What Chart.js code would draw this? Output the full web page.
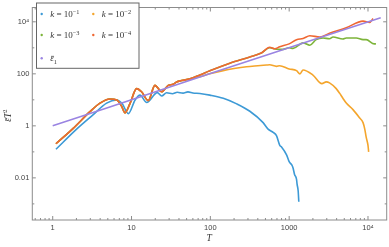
<!DOCTYPE html>
<html>
<head>
<meta charset="UTF-8">
<title>eps T2 vs T</title>
<script src="https://cdn.jsdelivr.net/npm/chart.js@4"></script>
<style>
    html, body { margin: 0; padding: 0; background: #fff; }
</style>
</head>
<body>
<canvas id="c" width="389" height="247"></canvas>
<script>
    // curve shared by k = 1e-2, 1e-3, 1e-4 at early times (they overlap)
    const earlyT = [1.10, 1.82, 2.97, 3.98, 5.3, 6.5, 7.5, 8.25, 9.6, 11.6, 13.4, 16.3, 19.8, 24.1, 29.2, 33.7, 37.3, 43.2, 55];
    const earlyV = [0.205, 0.8, 3.5, 7.45, 10.8, 9.9, 5.6, 3.15, 7.45, 27.1, 20.4, 9.4, 36, 20.4, 36, 39.4, 48.4, 55, 64];

    // k = 1e-1
    const blueT = [1.10, 2.01, 3.27, 4.83, 6.5, 7.6, 9.1, 11.1, 12.8, 15.6, 21.2, 24.1, 27.9, 33, 38, 45, 52, 60, 73.6, 98.6, 146, 216, 317, 467, 540, 627, 690, 760, 800, 930, 1000, 1075, 1120, 1170, 1240, 1260, 1300, 1325];
    const blueV = [0.126, 0.746, 2.7, 7.45, 9.9, 7.2, 2.96, 9.9, 15.2, 7.9, 18.9, 14, 18.7, 17.2, 19.6, 18.1, 20.2, 18.4, 17.6, 15.2, 11.5, 7.0, 3.64, 1.33, 0.75, 0.56, 0.42, 0.178, 0.154, 0.075, 0.042, 0.032, 0.024, 0.0135, 0.0088, 0.0057, 0.0032, 0.0012];

    // k = 1e-2 (after the shared part)
    const orangeT = [73.6, 98, 145, 200, 288, 400, 515, 565, 690, 755, 1000, 1240, 1370, 1500, 2000, 2600, 2950, 3250, 3950, 4380, 4800, 5300, 6450, 7800, 8650, 9100, 9500, 9990, 10200];
    const orangeV = [78, 100, 133, 160, 188, 205, 218, 223, 194, 205, 154, 133, 100, 141, 90, 42, 49, 45, 27, 17.7, 11.5, 7.5, 4.2, 2.05, 1.33, 0.75, 0.36, 0.18, 0.1];

    // k = 1e-4 (after the shared part)
    const redT = [73.6, 98.5, 180, 317, 450, 565, 657, 760, 1000, 1240, 1500, 1830, 2450, 3250, 5300, 8650, 10500, 11570];
    const redV = [90, 130, 260, 444, 650, 1058, 920, 1100, 1420, 2057, 2300, 2900, 2600, 3660, 5900, 10600, 9500, 13400];

    // k = 1e-3 (after the shared part)
    const greenT = [73.6, 98.5, 180, 317, 450, 565, 690, 830, 1000, 1120, 1500, 1830, 2200, 2690, 3250, 3600, 4800, 5300, 7100, 8650, 9500, 12000, 12600];
    const greenV = [90, 130, 260, 444, 650, 1000, 880, 870, 1000, 950, 1550, 1260, 2057, 2380, 2230, 2600, 2190, 2380, 2380, 2057, 2057, 1420, 1420];

    // eps_1 bar
    const purpleT = [1, 100, 14500];
    const purpleV = [1, 102, 14300];

    const xTicks = [1, 10, 100, 1000, 10000];
    const xLabels = ['1', '10', '100', '1000', '10⁴'];
    const yTicks = [0.01, 1, 100, 10000];
    const yLabels = ['0.01', '1', '100', '10⁴'];

    const colors = { blue: '#3d9ad6', orange: '#f4a52c', green: '#7db43a', red: '#ef6732', purple: '#9a84e2' };

    function pts(t, v) { return t.map((x, i) => ({ x: x, y: v[i] })); }

    function serie(label, data, color, order) {
        return {
            label, data, order,
            showLine: true, borderColor: color, backgroundColor: color,
            borderWidth: 1.6, pointRadius: 0, cubicInterpolationMode: 'monotone'
        };
    }

    // drawing text with italics, super/subscripts
    function mathText(ctx, parts, x, y, size) {
        let cx = x;
        parts.forEach(p => {
            const fs = p.sup || p.sub ? size * 0.7 : size;
            ctx.font = (p.it ? 'italic ' : '') + fs + 'px "Liberation Serif"';
            const dy = p.sup ? -size * 0.38 : (p.sub ? size * 0.25 : 0);
            ctx.fillText(p.t, cx, y + dy);
            const w = ctx.measureText(p.t).width;
            if (p.bar) {
                ctx.beginPath();
                ctx.lineWidth = 0.7;
                ctx.moveTo(cx + 0.8, y - size * 0.55);
                ctx.lineTo(cx + w + 0.3, y - size * 0.55);
                ctx.stroke();
            }
            cx += w;
        });
        return cx - x;
    }

    const framePlugin = {
        id: 'frame',
        beforeDatasetsDraw(chart) {
            const { ctx, chartArea: a, scales } = chart;
            ctx.save();
            ctx.strokeStyle = '#8c8c8c';
            ctx.lineWidth = 1;
            ctx.strokeRect(a.left, a.top, a.right - a.left, a.bottom - a.top);
            ctx.beginPath();
            for (let d = -1; d <= 4; d++) {
                for (let m = 1; m <= 9; m++) {
                    const v = m * Math.pow(10, d);
                    const px = scales.x.getPixelForValue(v);
                    if (px < a.left || px > a.right) continue;
                    const len = m === 1 ? 4 : 2;
                    ctx.moveTo(px, a.bottom); ctx.lineTo(px, a.bottom - len);
                    ctx.moveTo(px, a.top); ctx.lineTo(px, a.top + len);
                }
            }
            for (let d = -3; d <= 4; d++) {
                const py = scales.y.getPixelForValue(Math.pow(10, d));
                const len = d % 2 === 0 ? 3.5 : 2;
                ctx.moveTo(a.left, py); ctx.lineTo(a.left + len, py);
                ctx.moveTo(a.right, py); ctx.lineTo(a.right - len, py);
            }
            ctx.stroke();
            ctx.restore();
        },
        afterDraw(chart) {
            const { ctx, chartArea: a } = chart;
            ctx.save();
            ctx.fillStyle = '#333';
            ctx.strokeStyle = '#333';
            ctx.textBaseline = 'alphabetic';

            // axis titles
            mathText(ctx, [{ t: 'T', it: true }], (a.left + a.right) / 2 - 3, 241, 9.5);
            ctx.save();
            ctx.translate(11, (a.top + a.bottom) / 2 + 8);
            ctx.rotate(-Math.PI / 2);
            mathText(ctx, [{ t: 'ε', it: true, bar: true }, { t: 'T', it: true }, { t: '2', sup: true }], 0, 0, 9.5);
            ctx.restore();

            // legend box
            ctx.fillStyle = '#fff';
            ctx.fillRect(36, 2.7, 103, 65.6);
            ctx.strokeStyle = '#666';
            ctx.lineWidth = 1;
            ctx.strokeRect(36.5, 3, 102.5, 65.3);

            const entries = [
                { c: colors.blue, x: 41.7, y: 14, p: [{ t: 'k', it: true }, { t: ' = 10' }, { t: '−1', sup: true }] },
                { c: colors.orange, x: 93.3, y: 14, p: [{ t: 'k', it: true }, { t: ' = 10' }, { t: '−2', sup: true }] },
                { c: colors.green, x: 41.7, y: 35, p: [{ t: 'k', it: true }, { t: ' = 10' }, { t: '−3', sup: true }] },
                { c: colors.red, x: 93.3, y: 35, p: [{ t: 'k', it: true }, { t: ' = 10' }, { t: '−4', sup: true }] },
                { c: colors.purple, x: 41.7, y: 58.3, p: [{ t: 'ε', it: true, bar: true }, { t: '1', sub: true }] }
            ];
            entries.forEach(e => {
                ctx.fillStyle = e.c;
                ctx.beginPath();
                ctx.arc(e.x, e.y, 1.2, 0, Math.PI * 2);
                ctx.fill();
                ctx.fillStyle = '#333';
                ctx.strokeStyle = '#333';
                mathText(ctx, e.p, e.x + 8.5, e.y + 3, 9);
            });
            ctx.restore();
        }
    };

    new Chart(document.getElementById('c'), {
        type: 'scatter',
        data: {
            datasets: [
                serie('k = 10^-1', pts(blueT, blueV), colors.blue, 5),
                serie('k = 10^-2', pts(earlyT.concat(orangeT), earlyV.concat(orangeV)), colors.orange, 4),
                serie('k = 10^-3', pts(earlyT.concat(greenT), earlyV.concat(greenV)), colors.green, 3),
                serie('k = 10^-4', pts(earlyT.concat(redT), earlyV.concat(redV)), colors.red, 2),
                serie('eps1', pts(purpleT, purpleV), colors.purple, 1)
            ]
        },
        options: {
            responsive: false,
            animation: false,
            devicePixelRatio: 1,
            layout: { padding: { left: 0, top: 1.7, right: 2.3, bottom: 0 } },
            plugins: { legend: { display: false }, tooltip: { enabled: false } },
            scales: {
                x: {
                    type: 'logarithmic', min: 0.551, max: 17270,
                    grid: { display: false, drawTicks: false }, border: { display: false },
                    afterBuildTicks: s => { s.ticks = xTicks.map(v => ({ value: v })); },
                    afterFit: s => { s.height = 27; },
                    ticks: {
                        autoSkip: false, maxRotation: 0, padding: 3, color: '#444',
                        font: { family: 'Liberation Sans', size: 7.5 },
                        callback: (v, i) => xLabels[i]
                    }
                },
                y: {
                    type: 'logarithmic', min: 0.00024, max: 35500,
                    grid: { display: false, drawTicks: false }, border: { display: false },
                    afterBuildTicks: s => { s.ticks = yTicks.map(v => ({ value: v })); },
                    afterFit: s => { s.width = 32.3; },
                    ticks: {
                        autoSkip: false, padding: 3, color: '#444',
                        font: { family: 'Liberation Sans', size: 7.5 },
                        callback: (v, i) => yLabels[i]
                    }
                }
            }
        },
        plugins: [framePlugin]
    });
</script>
</body>
</html>
